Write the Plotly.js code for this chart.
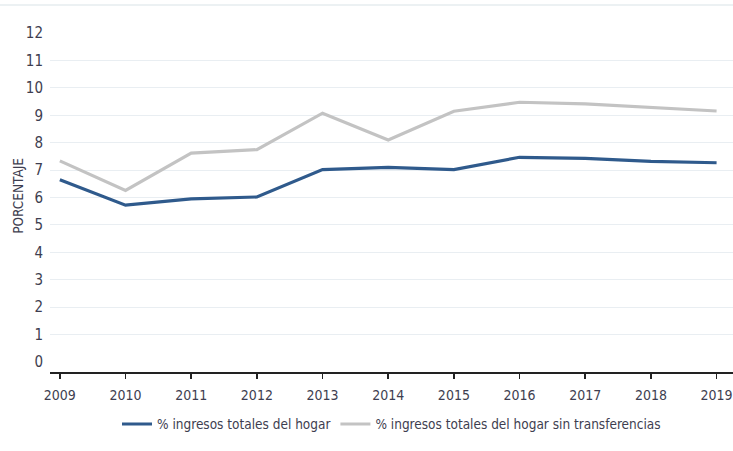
<!DOCTYPE html>
<html>
<head>
<meta charset="utf-8">
<script src="https://cdn.plot.ly/plotly-3.0.1.min.js"></script>
<style>html,body{margin:0;padding:0;background:#fff}#chart{width:733px;height:451px}</style>
</head>
<body>
<div id="chart"></div>
<script>
const years = [2009, 2010, 2011, 2012, 2013, 2014, 2015, 2016, 2017, 2018, 2019];
const ingresosTotales = [6.65, 5.72, 5.95, 6.02, 7.02, 7.1, 7.02, 7.47, 7.43, 7.32, 7.27];
const sinTransferencias = [7.34, 6.26, 7.62, 7.75, 9.08, 8.1, 9.15, 9.48, 9.42, 9.3, 9.16];
const yTicks = [0, 1, 2, 3, 4, 5, 6, 7, 8, 9, 10, 11, 12];
const gridVals = [1, 2, 3, 4, 5, 6, 7, 8, 9, 10, 11];
const name1 = '% ingresos totales del hogar';
const name2 = '% ingresos totales del hogar sin transferencias';
const yTitle = 'PORCENTAJE';

const FONT = '"DejaVu Sans Condensed", "DejaVu Sans", sans-serif';
const TXT = '#3e3e50';

const traces = [
  {x: [years[0]], y: [gridVals[0]], yaxis: 'y2', type: 'scatter', mode: 'markers',
   marker: {opacity: 0}, showlegend: false, hoverinfo: 'skip'},
  {x: years, y: ingresosTotales, name: name1, type: 'scatter', mode: 'lines',
   line: {color: '#2f5a8c', width: 3.2}},
  {x: years, y: sinTransferencias, name: name2, type: 'scatter', mode: 'lines',
   line: {color: '#c3c3c3', width: 3.2}}
];

const layout = {
  width: 733, height: 451,
  margin: {l: 50, r: 0, t: 5, b: 79},
  paper_bgcolor: '#fff', plot_bgcolor: '#fff',
  font: {family: FONT, size: 14, color: TXT},
  showlegend: true,
  legend: {orientation: 'h', x: 0.5, xanchor: 'center', y: -0.1, yanchor: 'top',
           font: {family: FONT, size: 13.5, color: TXT}, traceorder: 'normal'},
  xaxis: {range: [2008.85, 2019.25], tickvals: years, ticktext: years.map(String),
          showgrid: false, zeroline: false, showline: true, linecolor: '#222', linewidth: 1.5,
          ticks: 'outside', ticklen: 5, tickcolor: '#222', tickwidth: 1.5,
          ticklabeloverflow: 'allow', ticklabelstandoff: 5,
          tickfont: {family: FONT, size: 14, color: TXT}},
  yaxis: {range: [-0.37, 13.03], tickvals: yTicks, ticktext: yTicks.map(String),
          showgrid: false, zeroline: false, showline: false, ticks: '',
          ticklabelstandoff: 6,
          tickfont: {family: FONT, size: 15, color: TXT}},
  yaxis2: {range: [-0.37, 13.03], overlaying: 'y', tickvals: gridVals, showticklabels: false,
           showgrid: true, gridcolor: '#e9eef2', gridwidth: 1, zeroline: false, layer: 'below traces'},
  annotations: [
    {text: yTitle, xref: 'paper', yref: 'paper', x: -32/683, y: 0.48, textangle: -90,
     showarrow: false, xanchor: 'center', yanchor: 'middle',
     font: {family: FONT, size: 13.5, color: TXT}}
  ],
  shapes: [
    {type: 'line', xref: 'paper', yref: 'paper', x0: -50/683, x1: 1, y0: 1, y1: 1,
     line: {color: '#e6ecef', width: 1.5}}
  ]
};

Plotly.newPlot('chart', traces, layout, {displayModeBar: false, staticPlot: true});
</script>
</body>
</html>
